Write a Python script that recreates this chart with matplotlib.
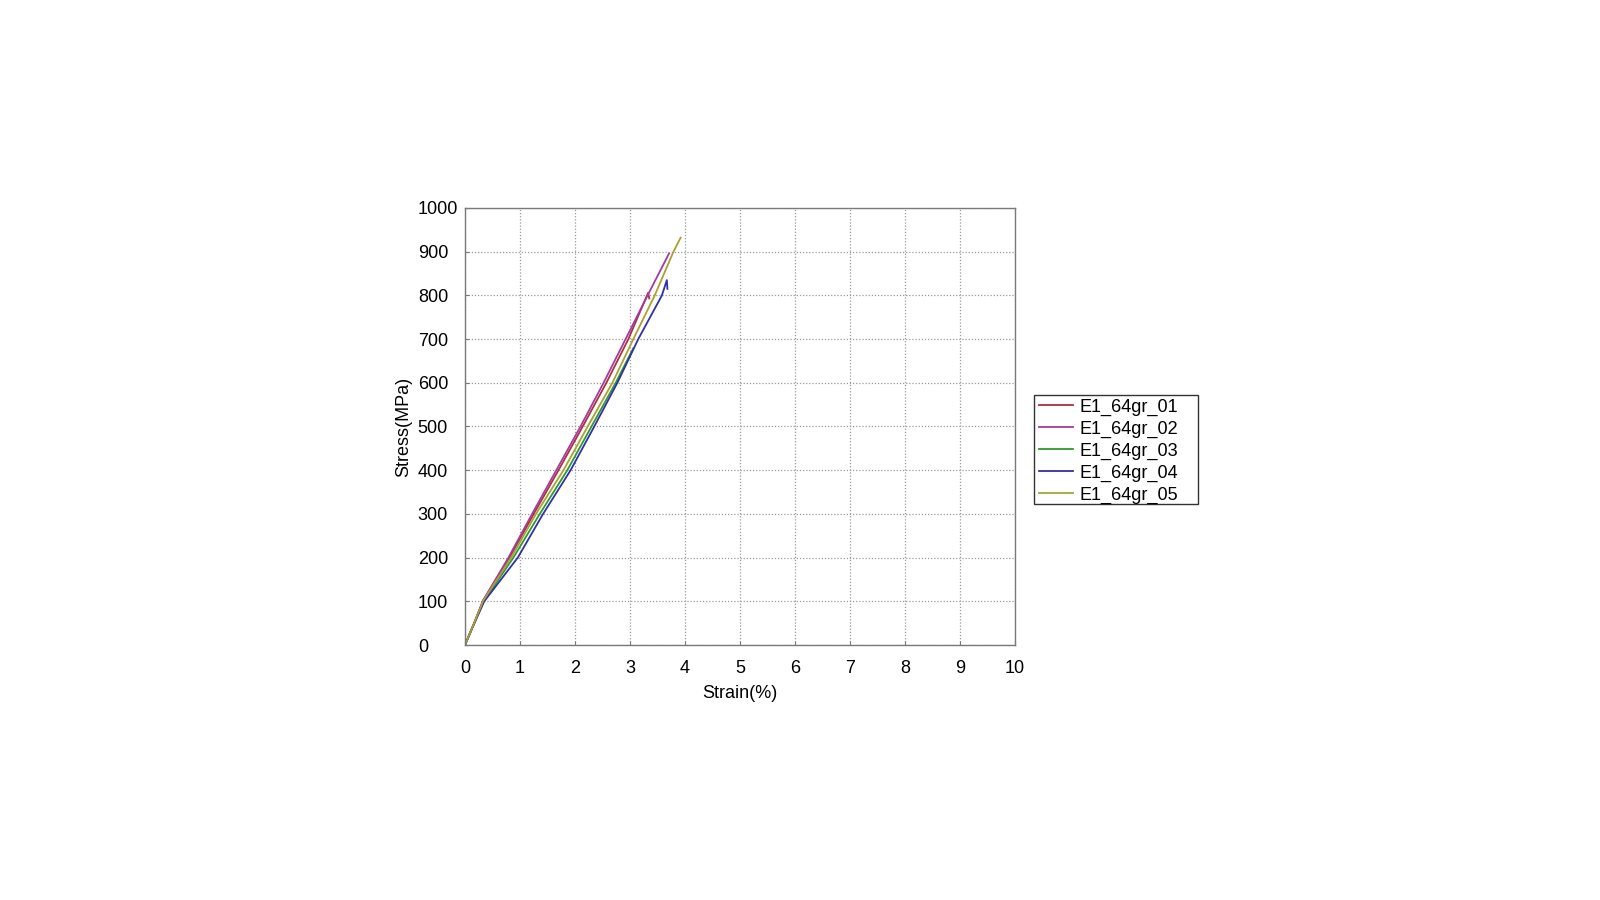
import matplotlib
matplotlib.use("Agg")
import matplotlib.pyplot as plt
from matplotlib.patches import Rectangle

plt.rcParams['font.family'] = ['Liberation Sans', 'DejaVu Sans']

series_names = ["E1_64gr_01", "E1_64gr_02", "E1_64gr_03", "E1_64gr_04", "E1_64gr_05"]
series_colors = ["#a8323e", "#a43aa4", "#2e9a2e", "#3030a8", "#a8a232"]

strain_01 = [0.0, 0.15, 0.33, 0.81, 1.25, 1.70, 2.14, 2.57, 2.97, 3.33, 3.35]
stress_01 = [0, 45, 102, 200, 300, 400, 500, 600, 700, 806, 793]

strain_02 = [0.0, 0.15, 0.33, 0.79, 1.22, 1.66, 2.10, 2.52, 2.92, 3.32, 3.71]
stress_02 = [0, 45, 102, 200, 300, 400, 500, 600, 700, 800, 896]

strain_03 = [0.0, 0.15, 0.34, 0.88, 1.36, 1.86, 2.30, 2.74, 3.06]
stress_03 = [0, 45, 100, 200, 300, 400, 500, 600, 679]

strain_04 = [0.0, 0.15, 0.35, 0.96, 1.42, 1.92, 2.35, 2.77, 3.15, 3.58, 3.67, 3.68]
stress_04 = [0, 44, 100, 200, 300, 400, 500, 600, 700, 800, 835, 815]

strain_05 = [0.0, 0.15, 0.33, 0.84, 1.29, 1.79, 2.23, 2.68, 3.06, 3.45, 3.79, 3.92]
stress_05 = [0, 45, 101, 200, 300, 400, 500, 600, 700, 800, 900, 932]

strains = [strain_01, strain_02, strain_03, strain_04, strain_05]
stresses = [stress_01, stress_02, stress_03, stress_04, stress_05]

x_ticks = list(range(0, 11))
y_ticks = list(range(0, 1001, 100))

FS = 13

fig = plt.figure(figsize=(16, 9), dpi=100)
ax = fig.add_axes([465 / 1600, 1 - 645 / 900, 550 / 1600, 437 / 900])

for name, color, xs, ys in zip(series_names, series_colors, strains, stresses):
    ax.plot(xs, ys, color=color, lw=1.3, label=name)

ax.set_xlim(0, 10)
ax.set_ylim(0, 1000)
ax.set_xticks(x_ticks)
ax.set_yticks(y_ticks)
ax.grid(True, color="#9a9a9a", linestyle=(0, (1, 1.5)), linewidth=0.9)
ax.set_axisbelow(True)
for sp in ax.spines.values():
    sp.set_color("#7a7a7a")
    sp.set_linewidth(1.0)

ax.tick_params(axis="both", direction="in", length=3, color="#7a7a7a",
               labelsize=FS, labelcolor="black")
ax.tick_params(axis="x", pad=11)
ax.tick_params(axis="y", pad=34)
for lbl in ax.get_yticklabels():
    lbl.set_horizontalalignment("left")

ax.set_xlabel("Strain(%)", fontsize=FS)
ax.set_ylabel("Stress(MPa)", fontsize=FS)
ax.xaxis.set_label_coords(0.5, (645 - 693) / 437)
ax.xaxis.label.set_va("center")
ax.yaxis.set_label_coords((404 - 465) / 550, 0.5)
ax.yaxis.label.set_va("center")

leg = ax.legend(loc="upper left", bbox_to_anchor=(1034 / 1600, 1 - 393 / 900),
                bbox_transform=fig.transFigure, borderaxespad=0,
                fontsize=FS, frameon=False, handlelength=1.85, handletextpad=0.35,
                labelspacing=0.27, borderpad=0.3)

frame = Rectangle((1034 / 1600, 1 - 504 / 900), (1198 - 1034) / 1600, (504 - 395) / 900,
                  transform=fig.transFigure, facecolor="white", edgecolor="#333333",
                  linewidth=1.0, zorder=-1)
fig.patches.append(frame)

fig.savefig("out.png", dpi=100)
